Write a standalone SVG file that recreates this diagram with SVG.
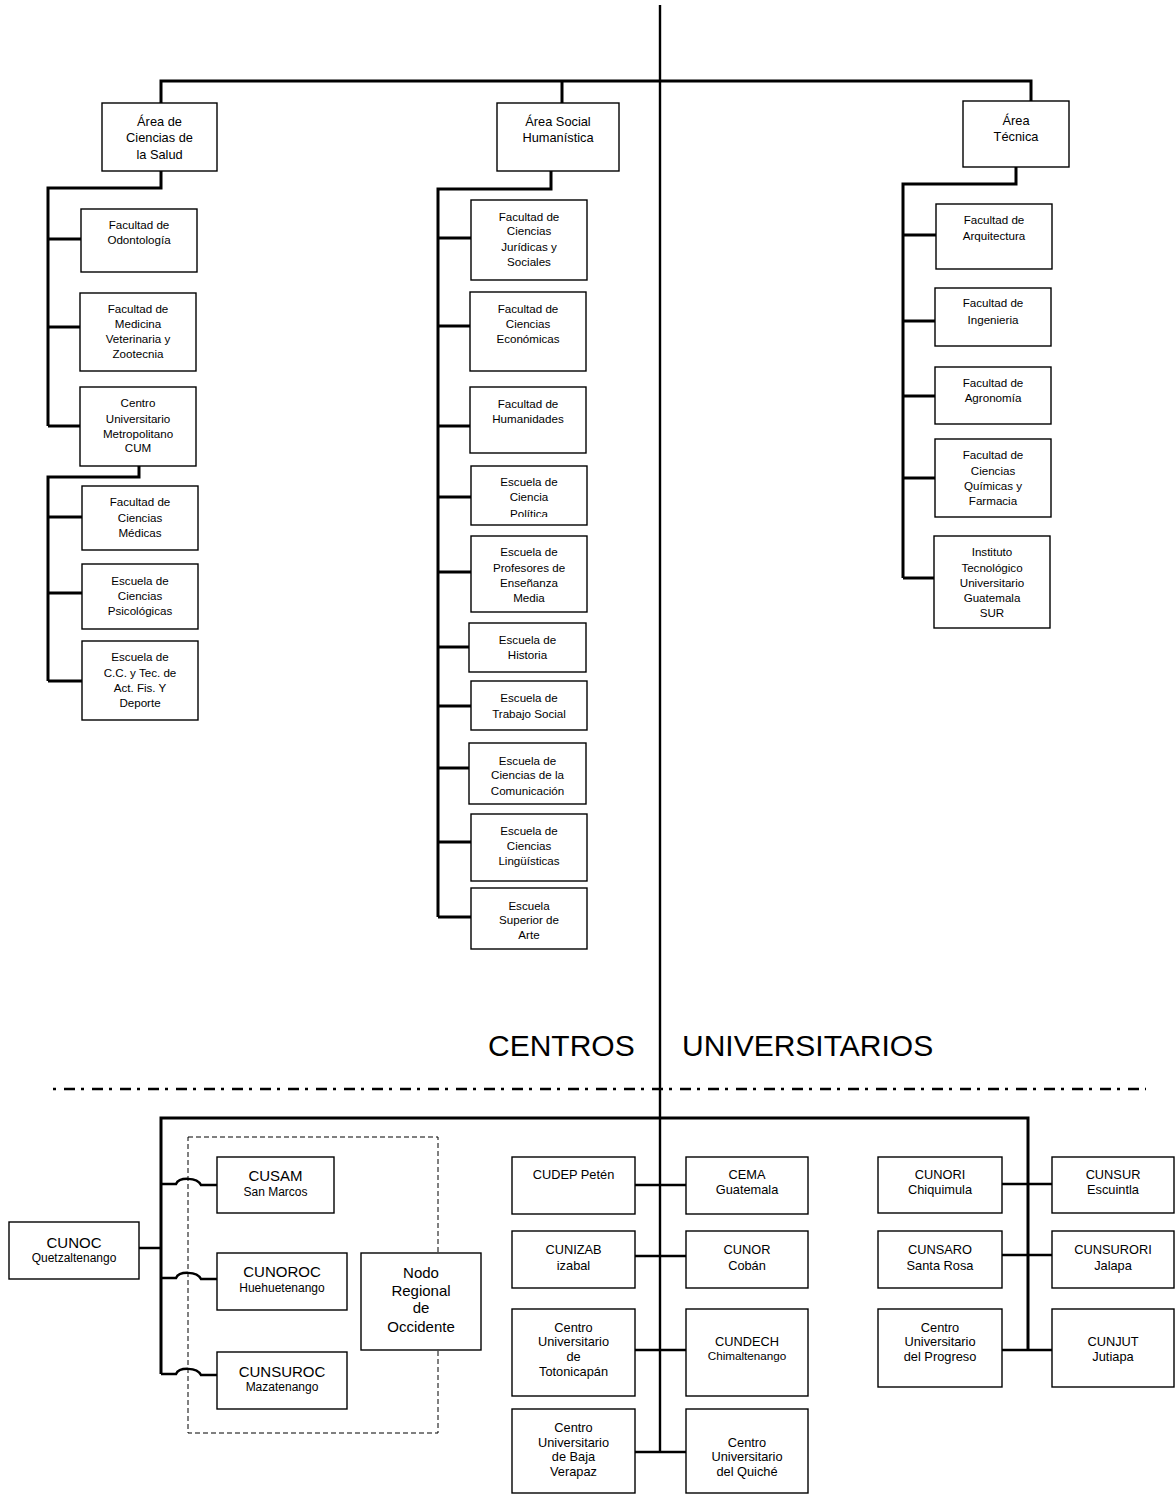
<svg xmlns="http://www.w3.org/2000/svg" width="1176" height="1495" viewBox="0 0 1176 1495">
<style>
.box{fill:#fff;stroke:#000;stroke-width:1.4}
.dbox{fill:none;stroke:#000;stroke-width:1;stroke-dasharray:5 3}
.t{font-family:"Liberation Sans",Arial,Helvetica,sans-serif;font-size:11.6px;text-anchor:middle;fill:#000}
.a{font-size:12.8px}
.h{font-size:15px}
.s{font-size:12px}
.c{font-size:11.7px}
.conn{fill:none;stroke:#000;stroke-width:3}
.thin{fill:none;stroke:#000;stroke-width:2.5}
.main{fill:none;stroke:#000;stroke-width:2.4}
.dd{fill:none;stroke:#000;stroke-width:2.5;stroke-dasharray:3 8 11 6}
.title{font-family:"Liberation Sans",Arial,Helvetica,sans-serif;font-size:30px;fill:#000}
</style>
<defs>
<clipPath id="clipPol"><rect x="471" y="466" width="116" height="51"/></clipPath>
</defs>
<rect x="0" y="0" width="1176" height="1495" fill="#fff"/>

<g id="connectors">
<line class="main" x1="660" y1="5" x2="660" y2="1452"/>
<polyline class="conn" points="161,103 161,81 1031,81 1031,101"/>
<line class="conn" x1="562" y1="81" x2="562" y2="103"/>
<!-- Salud -->
<polyline class="conn" points="161,171 161,188 48,188 48,426"/>
<line class="conn" x1="48" y1="239" x2="81" y2="239"/>
<line class="conn" x1="48" y1="327" x2="80" y2="327"/>
<line class="conn" x1="48" y1="426" x2="80" y2="426"/>
<polyline class="conn" points="139,466 139,477 48,477 48,681"/>
<line class="conn" x1="48" y1="517" x2="82" y2="517"/>
<line class="conn" x1="48" y1="593" x2="82" y2="593"/>
<line class="conn" x1="48" y1="681" x2="82" y2="681"/>
<!-- Social -->
<polyline class="conn" points="551,171 551,189 438,189 438,917"/>
<line class="conn" x1="438" y1="238" x2="471" y2="238"/>
<line class="conn" x1="438" y1="326" x2="470" y2="326"/>
<line class="conn" x1="438" y1="426" x2="470" y2="426"/>
<line class="conn" x1="438" y1="497" x2="471" y2="497"/>
<line class="conn" x1="438" y1="572" x2="471" y2="572"/>
<line class="conn" x1="438" y1="647" x2="469" y2="647"/>
<line class="conn" x1="438" y1="706" x2="471" y2="706"/>
<line class="conn" x1="438" y1="768" x2="469" y2="768"/>
<line class="conn" x1="438" y1="842" x2="471" y2="842"/>
<line class="conn" x1="438" y1="917" x2="471" y2="917"/>
<!-- Tecnica -->
<polyline class="conn" points="1016,167 1016,184 903,184 903,578"/>
<line class="conn" x1="903" y1="235" x2="936" y2="235"/>
<line class="conn" x1="903" y1="321" x2="935" y2="321"/>
<line class="conn" x1="903" y1="396" x2="935" y2="396"/>
<line class="conn" x1="903" y1="478" x2="935" y2="478"/>
<line class="conn" x1="903" y1="578" x2="934" y2="578"/>
<!-- separator -->
<line class="dd" x1="53" y1="1089" x2="1146" y2="1089"/>
<!-- centros bar -->
<polyline class="conn" points="161,1374 161,1118 1028,1118 1028,1350"/>
<line class="thin" x1="139" y1="1248" x2="161" y2="1248"/>
<path class="thin" d="M161,1184 H176 C179,1177 197,1177 201,1185 H217"/>
<path class="thin" d="M161,1278 H176 C179,1271 197,1271 201,1279 H217"/>
<path class="thin" d="M161,1374 H176 C179,1367 197,1367 201,1375 H217"/>
<line class="thin" x1="635" y1="1185" x2="686" y2="1185"/>
<line class="thin" x1="635" y1="1256" x2="686" y2="1256"/>
<line class="thin" x1="635" y1="1350" x2="686" y2="1350"/>
<line class="thin" x1="635" y1="1452" x2="686" y2="1452"/>
<line class="thin" x1="1002" y1="1184" x2="1052" y2="1184"/>
<line class="thin" x1="1002" y1="1255" x2="1052" y2="1255"/>
<line class="thin" x1="1002" y1="1350" x2="1052" y2="1350"/>
</g>

<g id="area-salud"><rect class="box" x="102" y="103" width="115" height="68"/>
<text class="t a" x="159.5" y="126">Área de</text><text class="t a" x="159.5" y="142">Ciencias de</text><text class="t a" x="159.5" y="159">la Salud</text></g>
<g id="odontologia"><rect class="box" x="81" y="209" width="116" height="63"/>
<text class="t" x="139" y="229">Facultad de</text><text class="t" x="139" y="244">Odontología</text></g>
<g id="veterinaria"><rect class="box" x="80" y="293" width="116" height="78"/>
<text class="t" x="138" y="313">Facultad de</text><text class="t" x="138" y="328">Medicina</text><text class="t" x="138" y="343">Veterinaria y</text><text class="t" x="138" y="358">Zootecnia</text></g>
<g id="cum"><rect class="box" x="80" y="387" width="116" height="79"/>
<text class="t" x="138" y="407">Centro</text><text class="t" x="138" y="423">Universitario</text><text class="t" x="138" y="438">Metropolitano</text><text class="t" x="138" y="452">CUM</text></g>
<g id="medicas"><rect class="box" x="82" y="486" width="116" height="64"/>
<text class="t" x="140" y="506">Facultad de</text><text class="t" x="140" y="522">Ciencias</text><text class="t" x="140" y="537">Médicas</text></g>
<g id="psicologicas"><rect class="box" x="82" y="564" width="116" height="65"/>
<text class="t" x="140" y="585">Escuela de</text><text class="t" x="140" y="600">Ciencias</text><text class="t" x="140" y="615">Psicológicas</text></g>
<g id="deporte"><rect class="box" x="82" y="641" width="116" height="79"/>
<text class="t" x="140" y="661">Escuela de</text><text class="t" x="140" y="677">C.C. y Tec. de</text><text class="t" x="140" y="692">Act. Fis. Y</text><text class="t" x="140" y="707">Deporte</text></g>

<g id="area-social"><rect class="box" x="497" y="103" width="122" height="68"/>
<text class="t a" x="558" y="126">Área Social</text><text class="t a" x="558" y="142">Humanística</text></g>
<g id="juridicas"><rect class="box" x="471" y="200" width="116" height="80"/>
<text class="t" x="529" y="221">Facultad de</text><text class="t" x="529" y="235">Ciencias</text><text class="t" x="529" y="251">Jurídicas y</text><text class="t" x="529" y="266">Sociales</text></g>
<g id="economicas"><rect class="box" x="470" y="292" width="116" height="79"/>
<text class="t" x="528" y="313">Facultad de</text><text class="t" x="528" y="328">Ciencias</text><text class="t" x="528" y="343">Económicas</text></g>
<g id="humanidades"><rect class="box" x="470" y="387" width="116" height="66"/>
<text class="t" x="528" y="408">Facultad de</text><text class="t" x="528" y="423">Humanidades</text></g>
<g id="politica"><rect class="box" x="471" y="466" width="116" height="59"/>
<g clip-path="url(#clipPol)"><text class="t" x="529" y="486">Escuela de</text><text class="t" x="529" y="501">Ciencia</text><text class="t" x="529" y="518">Política</text></g></g>
<g id="profesores"><rect class="box" x="471" y="536" width="116" height="76"/>
<text class="t" x="529" y="556">Escuela de</text><text class="t" x="529" y="572">Profesores de</text><text class="t" x="529" y="587">Enseñanza</text><text class="t" x="529" y="602">Media</text></g>
<g id="historia"><rect class="box" x="469" y="623" width="117" height="49"/>
<text class="t" x="527.5" y="644">Escuela de</text><text class="t" x="527.5" y="659">Historia</text></g>
<g id="trabajo-social"><rect class="box" x="471" y="681" width="116" height="49"/>
<text class="t" x="529" y="702">Escuela de</text><text class="t" x="529" y="718">Trabajo Social</text></g>
<g id="comunicacion"><rect class="box" x="469" y="743" width="117" height="61"/>
<text class="t" x="527.5" y="765">Escuela de</text><text class="t" x="527.5" y="779">Ciencias de la</text><text class="t" x="527.5" y="795">Comunicación</text></g>
<g id="linguisticas"><rect class="box" x="471" y="814" width="116" height="67"/>
<text class="t" x="529" y="835">Escuela de</text><text class="t" x="529" y="850">Ciencias</text><text class="t" x="529" y="865">Lingüísticas</text></g>
<g id="arte"><rect class="box" x="471" y="888" width="116" height="61"/>
<text class="t" x="529" y="910">Escuela</text><text class="t" x="529" y="924">Superior de</text><text class="t" x="529" y="939">Arte</text></g>

<g id="area-tecnica"><rect class="box" x="963" y="101" width="106" height="66"/>
<text class="t a" x="1016" y="125">Área</text><text class="t a" x="1016" y="141">Técnica</text></g>
<g id="arquitectura"><rect class="box" x="936" y="204" width="116" height="65"/>
<text class="t" x="994" y="224">Facultad de</text><text class="t" x="994" y="240">Arquitectura</text></g>
<g id="ingenieria"><rect class="box" x="935" y="288" width="116" height="58"/>
<text class="t" x="993" y="307">Facultad de</text><text class="t" x="993" y="324">Ingenieria</text></g>
<g id="agronomia"><rect class="box" x="935" y="367" width="116" height="57"/>
<text class="t" x="993" y="387">Facultad de</text><text class="t" x="993" y="402">Agronomía</text></g>
<g id="quimicas"><rect class="box" x="935" y="439" width="116" height="78"/>
<text class="t" x="993" y="459">Facultad de</text><text class="t" x="993" y="475">Ciencias</text><text class="t" x="993" y="490">Químicas y</text><text class="t" x="993" y="505">Farmacia</text></g>
<g id="itugs"><rect class="box" x="934" y="536" width="116" height="92"/>
<text class="t" x="992" y="556">Instituto</text><text class="t" x="992" y="572">Tecnológico</text><text class="t" x="992" y="587">Universitario</text><text class="t" x="992" y="602">Guatemala</text><text class="t" x="992" y="617">SUR</text></g>

<g id="titulo">
<text class="title" x="488" y="1056">CENTROS</text>
<text class="title" x="682" y="1056">UNIVERSITARIOS</text>
</g>

<g id="nodo-occidente-frame"><rect class="dbox" x="188" y="1137" width="250" height="296"/></g>
<g id="cunoc"><rect class="box" x="9" y="1222" width="130" height="57"/>
<text class="t h" x="74" y="1248">CUNOC</text><text class="t s" x="74" y="1262">Quetzaltenango</text></g>
<g id="cusam"><rect class="box" x="217" y="1157" width="117" height="56"/>
<text class="t h" x="275.5" y="1181">CUSAM</text><text class="t s" x="275.5" y="1196">San Marcos</text></g>
<g id="cunoroc"><rect class="box" x="217" y="1253" width="130" height="57"/>
<text class="t h" x="282" y="1277">CUNOROC</text><text class="t s" x="282" y="1292">Huehuetenango</text></g>
<g id="cunsuroc"><rect class="box" x="217" y="1352" width="130" height="57"/>
<text class="t h" x="282" y="1377">CUNSUROC</text><text class="t s" x="282" y="1391">Mazatenango</text></g>
<g id="nodo"><rect class="box" x="361" y="1253" width="120" height="97"/>
<text class="t h" x="421" y="1278">Nodo</text><text class="t h" x="421" y="1296">Regional</text><text class="t h" x="421" y="1313">de</text><text class="t h" x="421" y="1332">Occidente</text></g>

<g id="cudep"><rect class="box" x="512" y="1157" width="123" height="57"/>
<text class="t a" x="573.5" y="1179">CUDEP Petén</text></g>
<g id="cema"><rect class="box" x="686" y="1157" width="122" height="57"/>
<text class="t a" x="747" y="1179">CEMA</text><text class="t a" x="747" y="1194">Guatemala</text></g>
<g id="cunizab"><rect class="box" x="512" y="1231" width="123" height="57"/>
<text class="t a" x="573.5" y="1254">CUNIZAB</text><text class="t a" x="573.5" y="1270">izabal</text></g>
<g id="cunor"><rect class="box" x="686" y="1231" width="122" height="57"/>
<text class="t a" x="747" y="1254">CUNOR</text><text class="t a" x="747" y="1270">Cobán</text></g>
<g id="totonicapan"><rect class="box" x="512" y="1309" width="123" height="87"/>
<text class="t a" x="573.5" y="1332">Centro</text><text class="t a" x="573.5" y="1346">Universitario</text><text class="t a" x="573.5" y="1361">de</text><text class="t a" x="573.5" y="1376">Totonicapán</text></g>
<g id="cundech"><rect class="box" x="686" y="1309" width="122" height="87"/>
<text class="t a" x="747" y="1346">CUNDECH</text><text class="t c" x="747" y="1360">Chimaltenango</text></g>
<g id="baja-verapaz"><rect class="box" x="512" y="1409" width="123" height="84"/>
<text class="t a" x="573.5" y="1432">Centro</text><text class="t a" x="573.5" y="1447">Universitario</text><text class="t a" x="573.5" y="1461">de Baja</text><text class="t a" x="573.5" y="1476">Verapaz</text></g>
<g id="quiche"><rect class="box" x="686" y="1409" width="122" height="84"/>
<text class="t a" x="747" y="1447">Centro</text><text class="t a" x="747" y="1461">Universitario</text><text class="t a" x="747" y="1476">del Quiché</text></g>

<g id="cunori"><rect class="box" x="878" y="1157" width="124" height="56"/>
<text class="t a" x="940" y="1179">CUNORI</text><text class="t a" x="940" y="1194">Chiquimula</text></g>
<g id="cunsur"><rect class="box" x="1052" y="1157" width="122" height="56"/>
<text class="t a" x="1113" y="1179">CUNSUR</text><text class="t a" x="1113" y="1194">Escuintla</text></g>
<g id="cunsaro"><rect class="box" x="878" y="1231" width="124" height="57"/>
<text class="t a" x="940" y="1254">CUNSARO</text><text class="t a" x="940" y="1270">Santa Rosa</text></g>
<g id="cunsurori"><rect class="box" x="1052" y="1231" width="122" height="57"/>
<text class="t a" x="1113" y="1254">CUNSURORI</text><text class="t a" x="1113" y="1270">Jalapa</text></g>
<g id="progreso"><rect class="box" x="878" y="1309" width="124" height="78"/>
<text class="t a" x="940" y="1332">Centro</text><text class="t a" x="940" y="1346">Universitario</text><text class="t a" x="940" y="1361">del Progreso</text></g>
<g id="cunjut"><rect class="box" x="1052" y="1309" width="122" height="78"/>
<text class="t a" x="1113" y="1346">CUNJUT</text><text class="t a" x="1113" y="1361">Jutiapa</text></g>
</svg>
